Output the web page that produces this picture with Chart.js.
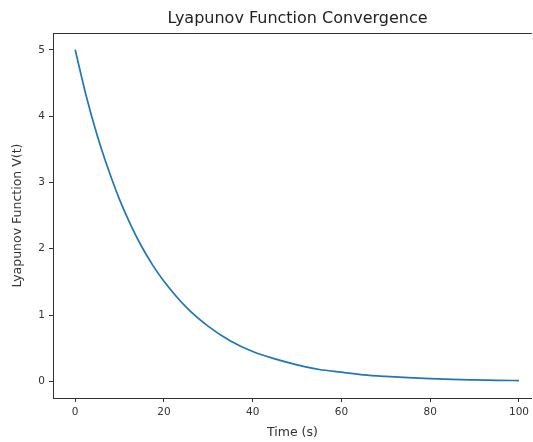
<!DOCTYPE html>
<html>
<head>
<meta charset="utf-8">
<script src="https://cdn.jsdelivr.net/npm/chart.js@4"></script>
<style>
  html, body { margin: 0; padding: 0; background: #fff; width: 533px; height: 442px; overflow: hidden; }
  canvas { display: block; }
</style>
</head>
<body>
<canvas id="c" width="533" height="442"></canvas>
<script>
// Data
const chartTitle = "Lyapunov Function Convergence";
const xLabel = "Time (s)";
const yLabel = "Lyapunov Function V(t)";
const timeValues = [0, 2.5, 5, 7.5, 10, 12.5, 15, 17.5, 20, 25, 30, 35, 40, 45, 50, 55, 60, 65, 70, 75, 80, 85, 90, 95, 100];
const lyapunovValues = [5.00, 4.30, 3.70, 3.19, 2.74, 2.36, 2.03, 1.75, 1.51, 1.12, 0.83, 0.61, 0.45, 0.34, 0.25, 0.18, 0.14, 0.10, 0.075, 0.056, 0.041, 0.030, 0.023, 0.017, 0.012];
const xTicks = [0, 20, 40, 60, 80, 100];
const yTicks = [0, 1, 2, 3, 4, 5];

const FONT = "'DejaVu Sans', sans-serif";
const AXIS_COLOR = '#333333';

// top spine (the right spine lies outside the cropped picture)
const framePlugin = {
  id: 'frame',
  afterDatasetsDraw(chart) {
    const { ctx, chartArea: a } = chart;
    ctx.save();
    ctx.strokeStyle = AXIS_COLOR;
    ctx.lineWidth = 1;
    ctx.beginPath();
    const y = Math.round(a.top) + 0.5;
    ctx.moveTo(a.left, y);
    ctx.lineTo(a.right, y);
    ctx.stroke();
    ctx.restore();
  }
};

// centre the title over the full axes box (which extends past the crop)
const titleShiftPlugin = {
  id: 'titleShift',
  beforeDraw(chart) {
    const t = chart.titleBlock;
    if (t && !t._shifted) { t.left += 31; t.right += 31; t._shifted = true; }
  }
};

new Chart(document.getElementById('c'), {
  type: 'line',
  data: {
    datasets: [{
      data: timeValues.map((t, i) => ({ x: t, y: lyapunovValues[i] })),
      borderColor: '#1f77b4',
      borderWidth: 1.7,
      pointRadius: 0,
      fill: false,
      cubicInterpolationMode: 'monotone'
    }]
  },
  options: {
    responsive: false,
    animation: false,
    devicePixelRatio: 1,
    layout: { padding: { left: 0, right: 0, top: 0, bottom: 0 } },
    plugins: {
      legend: { display: false },
      tooltip: { enabled: false },
      title: {
        display: true,
        text: chartTitle,
        color: '#222',
        align: 'center',
        font: { family: FONT, size: 16, weight: 'normal' },
        padding: { top: 9, bottom: 5 }
      }
    },
    scales: {
      x: {
        type: 'linear',
        min: -5,
        max: 102.9,
        afterBuildTicks(scale) { scale.ticks = xTicks.map(v => ({ value: v })); },
        afterFit(scale) { scale.height = 44; },
        ticks: { color: '#333', font: { family: FONT, size: 10.5 }, padding: 4, maxRotation: 0 },
        grid: { drawOnChartArea: false, drawTicks: true, tickLength: 4, color: AXIS_COLOR },
        border: { display: true, color: AXIS_COLOR },
        title: { display: true, text: xLabel, color: '#333', font: { family: FONT, size: 12.5 }, padding: { top: 0, bottom: 1.5 } }
      },
      y: {
        type: 'linear',
        min: -0.25,
        max: 5.25,
        afterBuildTicks(scale) { scale.ticks = yTicks.map(v => ({ value: v })); },
        afterFit(scale) { scale.width = 53; },
        ticks: { color: '#333', font: { family: FONT, size: 10.5 }, padding: 4 },
        grid: { drawOnChartArea: false, drawTicks: true, tickLength: 4, color: AXIS_COLOR },
        border: { display: true, color: AXIS_COLOR },
        title: { display: true, text: yLabel, color: '#333', font: { family: FONT, size: 12.5 }, padding: { top: 10, bottom: 0 } }
      }
    }
  },
  plugins: [framePlugin, titleShiftPlugin]
});
</script>
</body>
</html>
